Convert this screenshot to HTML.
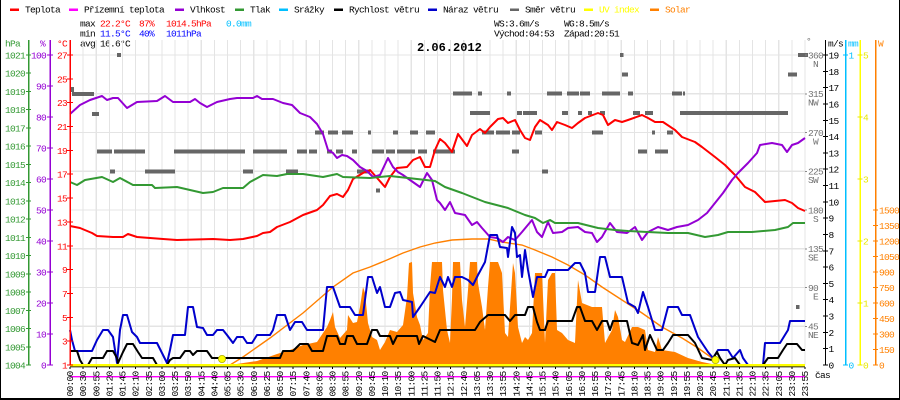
<!DOCTYPE html>
<html><head><meta charset="utf-8">
<style>
html,body{margin:0;padding:0;background:#fff;}
svg{display:block;}
text{font-family:"Liberation Mono",monospace;font-size:9.5px;letter-spacing:-0.7px;}
.g{fill:#339933}.p{fill:#9400d3}.r{fill:#ff0000}.k{fill:#000}.d{fill:#707070}.c{fill:#00bfff}.y{fill:#e8e800}.o{fill:#ff8000}.b{fill:#0000ff}
</style></head>
<body>
<svg width="900" height="400" viewBox="0 0 900 400" xmlns="http://www.w3.org/2000/svg">
<rect x="0" y="0" width="900" height="400" fill="#fff"/>
<!-- border -->
<rect x="0" y="0" width="1" height="400" fill="#000"/>
<rect x="899" y="0" width="1" height="400" fill="#000"/>
<rect x="0" y="398" width="900" height="2" fill="#000"/>

<!-- legend -->
<g>
<rect x="10" y="8.5" width="9" height="2.5" fill="#ff0000"/><text x="25" y="12.5" class="k">Teplota</text>
<rect x="69" y="8.5" width="9" height="2.5" fill="#ff00ff"/><text x="84" y="12.5" class="k">Přízemní teplota</text>
<rect x="175" y="8.5" width="9" height="2.5" fill="#9400d3"/><text x="190" y="12.5" class="k">Vlhkost</text>
<rect x="235" y="8.5" width="9" height="2.5" fill="#339933"/><text x="250" y="12.5" class="k">Tlak</text>
<rect x="279" y="8.5" width="9" height="2.5" fill="#00bfff"/><text x="294" y="12.5" class="k">Srážky</text>
<rect x="334" y="8.5" width="9" height="2.5" fill="#000"/><text x="349" y="12.5" class="k">Rychlost větru</text>
<rect x="428" y="8.5" width="9" height="2.5" fill="#0000cc"/><text x="443" y="12.5" class="k">Náraz větru</text>
<rect x="510" y="8.5" width="9" height="2.5" fill="#666"/><text x="525" y="12.5" class="k">Směr větru</text>
<rect x="584" y="8.5" width="9" height="2.5" fill="#ffff00"/><text x="599" y="12.5" fill="#ffff00">UV index</text>
<rect x="650" y="8.5" width="9" height="2.5" fill="#ff8000"/><text x="665" y="12.5" class="o">Solar</text>
</g>

<!-- stats -->
<text x="80" y="26.5" class="k">max</text><text x="100" y="26.5" class="r">22.2°C</text><text x="139" y="26.5" class="r">87%</text><text x="166" y="26.5" class="r">1014.5hPa</text><text x="226" y="26.5" class="c">0.0mm</text>
<text x="80" y="36.5" class="k">min</text><text x="100" y="36.5" class="b">11.5°C</text><text x="139" y="36.5" class="b">40%</text><text x="166" y="36.5" class="b">1011hPa</text>
<text x="80" y="46.5" class="k">avg 16.6°C</text>
<text x="494" y="26.5" class="k">WS:3.6m/s</text><text x="564" y="26.5" class="k">WG:8.5m/s</text>
<text x="494" y="36.5" class="k">Východ:04:53</text><text x="564" y="36.5" class="k">Západ:20:51</text>

<!-- grid -->
<g stroke="#e4e4e4" stroke-width="1.2" shape-rendering="crispEdges">
<line x1="83.1" y1="40" x2="83.1" y2="365"/><line x1="96.3" y1="40" x2="96.3" y2="365"/><line x1="109.4" y1="40" x2="109.4" y2="365"/><line x1="122.5" y1="40" x2="122.5" y2="365"/><line x1="135.6" y1="40" x2="135.6" y2="365"/><line x1="148.8" y1="40" x2="148.8" y2="365"/><line x1="161.9" y1="40" x2="161.9" y2="365"/><line x1="175" y1="40" x2="175" y2="365"/><line x1="188.1" y1="40" x2="188.1" y2="365"/><line x1="201.3" y1="40" x2="201.3" y2="365"/><line x1="214.4" y1="40" x2="214.4" y2="365"/><line x1="227.5" y1="40" x2="227.5" y2="365"/><line x1="240.6" y1="40" x2="240.6" y2="365"/><line x1="253.8" y1="40" x2="253.8" y2="365"/><line x1="266.9" y1="40" x2="266.9" y2="365"/><line x1="280" y1="40" x2="280" y2="365"/><line x1="293.1" y1="40" x2="293.1" y2="365"/><line x1="306.3" y1="40" x2="306.3" y2="365"/><line x1="319.4" y1="40" x2="319.4" y2="365"/><line x1="332.5" y1="40" x2="332.5" y2="365"/><line x1="345.6" y1="40" x2="345.6" y2="365"/><line x1="358.8" y1="40" x2="358.8" y2="365"/><line x1="371.9" y1="40" x2="371.9" y2="365"/><line x1="385" y1="40" x2="385" y2="365"/><line x1="398.1" y1="40" x2="398.1" y2="365"/><line x1="411.3" y1="40" x2="411.3" y2="365"/><line x1="424.4" y1="40" x2="424.4" y2="365"/><line x1="437.5" y1="40" x2="437.5" y2="365"/><line x1="450.6" y1="40" x2="450.6" y2="365"/><line x1="463.8" y1="40" x2="463.8" y2="365"/><line x1="476.9" y1="40" x2="476.9" y2="365"/><line x1="490" y1="40" x2="490" y2="365"/><line x1="503.1" y1="40" x2="503.1" y2="365"/><line x1="516.3" y1="40" x2="516.3" y2="365"/><line x1="529.4" y1="40" x2="529.4" y2="365"/><line x1="542.5" y1="40" x2="542.5" y2="365"/><line x1="555.6" y1="40" x2="555.6" y2="365"/><line x1="568.8" y1="40" x2="568.8" y2="365"/><line x1="581.9" y1="40" x2="581.9" y2="365"/><line x1="595" y1="40" x2="595" y2="365"/><line x1="608.1" y1="40" x2="608.1" y2="365"/><line x1="621.3" y1="40" x2="621.3" y2="365"/><line x1="634.4" y1="40" x2="634.4" y2="365"/><line x1="647.5" y1="40" x2="647.5" y2="365"/><line x1="660.6" y1="40" x2="660.6" y2="365"/><line x1="673.8" y1="40" x2="673.8" y2="365"/><line x1="686.9" y1="40" x2="686.9" y2="365"/><line x1="700" y1="40" x2="700" y2="365"/><line x1="713.1" y1="40" x2="713.1" y2="365"/><line x1="726.3" y1="40" x2="726.3" y2="365"/><line x1="739.4" y1="40" x2="739.4" y2="365"/><line x1="752.5" y1="40" x2="752.5" y2="365"/><line x1="765.6" y1="40" x2="765.6" y2="365"/><line x1="778.8" y1="40" x2="778.8" y2="365"/><line x1="791.9" y1="40" x2="791.9" y2="365"/><line x1="805" y1="40" x2="805" y2="365"/>
<line x1="70" y1="55" x2="805" y2="55"/><line x1="70" y1="93.75" x2="805" y2="93.75"/><line x1="70" y1="132.5" x2="805" y2="132.5"/><line x1="70" y1="171.25" x2="805" y2="171.25"/><line x1="70" y1="210" x2="805" y2="210"/><line x1="70" y1="248.75" x2="805" y2="248.75"/><line x1="70" y1="287.5" x2="805" y2="287.5"/><line x1="70" y1="326.25" x2="805" y2="326.25"/>
</g>

<!-- title -->
<text x="417" y="51" style="font-size:12px;font-weight:bold;letter-spacing:0px">2.06.2012</text>

<!-- solar fill -->
<polygon fill="#ff8000" points="230,365 257,361 277,354 290,350 303,345 317,342 323,333 327,327 330,320 333,312 335,327 340,338 347,330 348,315 353,323 357,322 360,307 363,287 365,293 368,323 372,337 377,340 380,350 385,342 390,330 397,332 403,325 407,297 409,263 412,262 413,293 417,317 420,325 423,340 428,333 430,287 432,262 442,262 443,290 447,330 450,343 452,298 453,262 460,262 462,300 465,327 468,290 470,262 477,262 478,283 482,307 485,330 488,287 490,262 498,262 502,273 505,333 508,337 513,263 515,273 518,327 522,343 525,337 528,340 532,333 535,273 542,273 545,343 548,280 552,273 555,273 557,330 562,333 568,340 575,343 578,280 582,303 592,307 602,307 605,343 612,330 615,310 618,317 622,340 625,342 632,327 638,327 645,330 648,350 655,352 658,337 662,350 675,352 688,358 702,362 712,364 718,365"/>
<!-- solar theoretical -->
<polyline fill="none" stroke="#ff8000" stroke-width="1.4" points="230,365 243,357 270,338 303,313 333,287 353,273 370,267 387,260 403,253 420,247 435,243 452,240 472,239 488,239 502,242 522,245 535,250 552,257 568,265 585,275 602,287 622,300 642,313 662,327 682,338 698,348 712,358 718,362"/>

<!-- wind direction -->
<g fill="#666" shape-rendering="crispEdges">
<rect x="117" y="53" width="4" height="4"/>
<rect x="70" y="87" width="4" height="5"/>
<rect x="72" y="92" width="22" height="4"/>
<rect x="92" y="112" width="7" height="4"/>
<rect x="97" y="149.5" width="15" height="4"/><rect x="114" y="149.5" width="31" height="4"/>
<rect x="110" y="169.5" width="5" height="4"/>
<rect x="145" y="169.5" width="30" height="4"/>
<rect x="174" y="149.5" width="71" height="4"/>
<rect x="243" y="169.5" width="10" height="4"/>
<rect x="253" y="149.5" width="34" height="4"/>
<rect x="286" y="169.5" width="12" height="4"/>
<rect x="297" y="149.5" width="10" height="4"/><rect x="309" y="149.5" width="8" height="4"/>
<rect x="315" y="130.5" width="9" height="4"/><rect x="328" y="130.5" width="10" height="4"/>
<rect x="327" y="149.5" width="5" height="4"/><rect x="336" y="149.5" width="7" height="4"/>
<rect x="342" y="130.5" width="11" height="4"/>
<rect x="352" y="149.5" width="5" height="4"/>
<rect x="357" y="169.5" width="13" height="4"/>
<rect x="368" y="130.5" width="3" height="4"/>
<rect x="372" y="149.5" width="12" height="4"/><rect x="386" y="149.5" width="9" height="4"/>
<rect x="376" y="188.5" width="4" height="4"/>
<rect x="393" y="130.5" width="5" height="4"/>
<rect x="397" y="149.5" width="18" height="4"/>
<rect x="410" y="130.5" width="8" height="4"/>
<rect x="418" y="149.5" width="9" height="4"/>
<rect x="426" y="130.5" width="9" height="4"/>
<rect x="433" y="149.5" width="22" height="4"/>
<rect x="453" y="91.5" width="19" height="4"/>
<rect x="470" y="111" width="20" height="4"/>
<rect x="478" y="91.5" width="4" height="4"/>
<rect x="482" y="130.5" width="12" height="4"/><rect x="496" y="130.5" width="14" height="4"/><rect x="512" y="130.5" width="8" height="4"/>
<rect x="507" y="91.5" width="4" height="4"/>
<rect x="512" y="149.5" width="7" height="4"/>
<rect x="517" y="111" width="5" height="4"/>
<rect x="523" y="111" width="14" height="4"/>
<rect x="535" y="130.5" width="7" height="4"/>
<rect x="542" y="169.5" width="6" height="4"/>
<rect x="547" y="91.5" width="15" height="4"/>
<rect x="562" y="111" width="6" height="4"/>
<rect x="567" y="91.5" width="12" height="4"/><rect x="580" y="91.5" width="10" height="4"/>
<rect x="578" y="111" width="4" height="4"/>
<rect x="588" y="111" width="4" height="4"/>
<rect x="592" y="130.5" width="11" height="4"/>
<rect x="600" y="111" width="5" height="4"/>
<rect x="602" y="91.5" width="18" height="4"/>
<rect x="620" y="53" width="3.5" height="4"/>
<rect x="622" y="72.5" width="6" height="4"/>
<rect x="628" y="91.5" width="5" height="4"/>
<rect x="633" y="111" width="7" height="4"/>
<rect x="638" y="149.5" width="9" height="4"/>
<rect x="645" y="111" width="8" height="4"/>
<rect x="652" y="130.5" width="3" height="4"/>
<rect x="655" y="149.5" width="13" height="4"/>
<rect x="667" y="130.5" width="6" height="4"/>
<rect x="672" y="91.5" width="10" height="4"/><rect x="683" y="91.5" width="2" height="4"/>
<rect x="680" y="111" width="108" height="4"/>
<rect x="788" y="72.5" width="9" height="4"/>
<rect x="798" y="53" width="10" height="4"/>
<rect x="796" y="305" width="3.5" height="4"/>
</g>

<!-- temperature -->
<polyline fill="none" stroke="#ff0000" stroke-width="2" stroke-linejoin="round" points="70,226 80,228 92,233 97,236 113,237 123,237 128,234 137,237 163,239 177,240 213,239 230,240 243,239 257,236 263,233 270,232 277,227 290,222 303,215 317,210 323,205 330,196 337,194 343,197 348,190 353,179 363,173 370,170 378,179 385,187 390,177 397,168 407,167 413,160 420,157 425,167 430,167 435,150 440,139 445,143 452,152 458,134 467,146 472,135 480,129 485,133 490,127 498,119 503,118 508,123 515,120 520,130 525,138 530,140 535,127 540,120 548,125 552,130 557,122 565,125 572,128 578,123 585,118 598,113 603,115 608,125 615,120 622,122 628,120 642,115 648,118 655,122 663,122 675,130 682,137 695,142 702,147 715,157 725,165 735,175 745,187 755,192 765,202 775,201 785,200 792,203 798,208 805,211"/>
<!-- humidity -->
<polyline fill="none" stroke="#9400d3" stroke-width="2" stroke-linejoin="round" points="70,114 80,105 90,100 102,96 107,100 113,98 118,98 127,108 132,105 137,102 157,101 165,96 173,102 190,102 195,99 200,103 207,107 217,102 230,99 237,98 253,98 257,96 262,99 273,99 283,103 292,105 300,113 310,117 317,124 323,134 328,150 333,153 337,158 342,155 347,156 353,160 360,167 367,171 373,177 380,175 388,158 393,167 398,172 403,175 410,180 420,187 427,173 432,180 437,200 440,203 445,210 450,202 455,213 465,215 472,225 477,222 482,228 490,237 497,238 503,242 508,237 515,240 522,232 532,220 537,232 542,237 548,222 553,233 562,232 568,228 578,227 585,232 592,233 597,242 602,237 610,223 617,232 627,233 635,227 642,240 648,232 658,227 668,230 677,227 688,225 698,220 707,213 715,203 723,193 732,180 738,173 748,163 757,153 760,145 772,143 782,145 787,152 792,145 798,143 805,138"/>
<!-- pressure -->
<polyline fill="none" stroke="#339933" stroke-width="2" stroke-linejoin="round" points="70,182 77,185 85,180 102,177 113,182 120,178 133,185 152,185 155,188 177,187 190,190 203,193 213,192 223,188 243,188 250,182 263,175 277,176 287,174 303,174 323,177 337,174 343,177 370,178 390,176 417,179 435,181 445,187 462,193 485,202 508,208 525,215 535,218 543,223 550,220 555,223 578,223 598,228 615,230 628,231 668,233 688,233 705,237 718,235 728,232 752,232 775,230 788,227 793,223 805,223"/>
<!-- gust -->
<polyline fill="none" stroke="#0000cc" stroke-width="2" stroke-linejoin="round" points="70,330 72,340 75,351 92,351 97,340 103,330 108,330 113,337 117,363 120,330 123,315 127,315 132,332 137,337 140,343 157,343 162,353 167,363 170,350 173,335 185,335 188,307 193,307 197,327 203,328 207,335 213,335 217,330 223,330 227,335 233,343 237,337 243,337 247,343 252,343 257,335 270,335 273,330 277,315 285,315 290,330 295,322 302,322 307,330 323,330 327,287 333,287 340,307 350,307 355,315 363,315 368,277 372,277 377,293 380,287 385,307 390,307 395,293 400,292 403,300 412,302 413,317 420,307 430,292 435,293 440,277 445,287 448,277 452,287 455,277 462,277 468,280 473,285 478,275 485,262 490,235 497,235 500,247 507,248 508,257 512,227 515,233 517,257 520,255 522,277 525,250 528,270 533,297 537,277 545,277 548,270 568,270 575,263 580,263 585,273 588,292 595,292 600,257 605,257 610,277 622,277 628,303 635,307 638,313 643,292 648,307 655,330 662,330 668,307 678,307 682,315 690,315 698,337 708,352 713,358 718,350 728,350 733,358 740,350 743,358 748,365 763,365 765,343 780,343 788,330 790,321 805,321"/>
<!-- wind speed -->
<polyline fill="none" stroke="#000" stroke-width="2" stroke-linejoin="round" points="70,351 77,351 80,360 83,365 88,365 92,358 103,358 107,351 113,351 117,358 118,363 123,352 127,344 133,344 138,352 142,358 153,358 157,365 167,365 170,360 173,358 180,358 185,351 190,351 193,355 197,351 207,351 212,358 280,358 283,351 293,351 300,344 308,344 312,351 323,351 327,336 337,336 340,344 345,344 347,336 353,336 357,344 367,344 372,330 377,330 380,336 390,336 393,344 397,336 417,336 419,344 423,336 435,342 440,330 475,330 480,322 488,315 505,315 510,321 515,315 525,315 528,307 533,307 537,322 540,330 545,330 548,321 572,321 577,307 580,307 585,321 592,321 597,330 602,321 607,321 610,330 613,321 627,321 632,343 638,345 643,335 645,350 650,335 657,350 663,350 668,343 673,335 688,335 695,343 702,358 712,360 717,352 720,358 725,365 728,360 735,358 740,365 763,365 768,358 778,358 783,350 787,344 797,344 802,350 805,350"/>

<!-- bottom lines -->
<rect x="70" y="366.3" width="735" height="1" fill="#000"/>
<rect x="70" y="364" width="735" height="2.4" fill="#ffff00"/>
<rect x="70" y="376" width="735" height="1.4" fill="#ff00ff"/>
<circle cx="222" cy="359" r="3.6" fill="#ffff00" stroke="#b0b000" stroke-width="0.8"/>
<circle cx="715.5" cy="360" r="3.6" fill="#ffff00" stroke="#b0b000" stroke-width="0.8"/>

<!-- left axes -->
<g shape-rendering="crispEdges">
<rect x="28" y="40" width="1.3" height="325" fill="#339933"/>
<rect x="49.5" y="40" width="1.3" height="325" fill="#9400d3"/>
<rect x="69.5" y="40" width="1.3" height="325" fill="#ff0000"/>
<rect x="824.8" y="40" width="1.3" height="325" fill="#000"/>
<rect x="845" y="40" width="1.3" height="325" fill="#00bfff"/>
<rect x="859.5" y="40" width="1.3" height="325" fill="#ffff00"/>
<rect x="875" y="40" width="1.3" height="325" fill="#ff8000"/>
</g>
<g stroke-width="1" shape-rendering="crispEdges">
<path stroke="#339933" d="M26 55h5M26 73.2h5M26 91.5h5M26 109.7h5M26 127.9h5M26 146.2h5M26 164.4h5M26 182.7h5M26 200.9h5M26 219.1h5M26 237.4h5M26 255.6h5M26 273.9h5M26 292.1h5M26 310.3h5M26 328.5h5M26 346.8h5M26 365h5"/>
<path stroke="#9400d3" d="M47 55h6M47 86h6M47 117h6M47 148h6M47 179h6M47 210h6M47 241h6M47 272h6M47 303h6M47 334h6M47 365h6"/>
<path stroke="#ff0000" d="M67 55h6M67 78.8h6M67 102.7h6M67 126.5h6M67 150.4h6M67 174.2h6M67 198.1h6M67 221.9h6M67 245.8h6M67 269.6h6M67 293.5h6M67 317.3h6M67 341.2h6M67 365h6"/>
<path stroke="#000" d="M823 55h5M823 71.3h5M823 87.6h5M823 103.9h5M823 120.3h5M823 136.6h5M823 152.9h5M823 169.2h5M823 185.5h5M823 201.8h5M823 218.2h5M823 234.5h5M823 250.8h5M823 267.1h5M823 283.4h5M823 299.7h5M823 316.1h5M823 332.4h5M823 348.7h5M823 365h5"/>
<path stroke="#00bfff" d="M843 55h5M843 365h5"/>
<path stroke="#e8e800" d="M857.5 55h5M857.5 117h5M857.5 179h5M857.5 241h5M857.5 303h5M857.5 365h5"/>
<path stroke="#ff8000" d="M873 210h5M873 225.5h5M873 241h5M873 256.5h5M873 272h5M873 287.5h5M873 303h5M873 318.5h5M873 334h5M873 349.5h5M873 365h5"/>
<path stroke="#888" d="M805 55h2M805 93.75h2M805 132.5h2M805 171.25h2M805 210h2M805 248.75h2M805 287.5h2M805 326.25h2"/>
<path stroke="#000" d="M70 367v2M83.1 367v2M96.3 367v2M109.4 367v2M122.5 367v2M135.6 367v2M148.8 367v2M161.9 367v2M175 367v2M188.1 367v2M201.3 367v2M214.4 367v2M227.5 367v2M240.6 367v2M253.8 367v2M266.9 367v2M280 367v2M293.1 367v2M306.3 367v2M319.4 367v2M332.5 367v2M345.6 367v2M358.8 367v2M371.9 367v2M385 367v2M398.1 367v2M411.3 367v2M424.4 367v2M437.5 367v2M450.6 367v2M463.8 367v2M476.9 367v2M490 367v2M503.1 367v2M516.3 367v2M529.4 367v2M542.5 367v2M555.6 367v2M568.8 367v2M581.9 367v2M595 367v2M608.1 367v2M621.3 367v2M634.4 367v2M647.5 367v2M660.6 367v2M673.8 367v2M686.9 367v2M700 367v2M713.1 367v2M726.3 367v2M739.4 367v2M752.5 367v2M765.6 367v2M778.8 367v2M791.9 367v2M805 367v2"/>
</g>

<!-- axis unit labels -->
<text x="5" y="46.5" class="g">hPa</text>
<text x="40" y="46.5" class="p">%</text>
<text x="57" y="46.5" class="r">°C</text>
<text x="806" y="44" class="d">°</text>
<text x="828" y="46.5" class="k">m/s</text>
<text x="848" y="46.5" class="c">mm</text>
<text x="878" y="46.5" class="o">W</text>
<text x="815" y="378" class="k">čas</text>

<!-- hPa labels -->
<g class="g" text-anchor="end">
<text x="25" y="58.5" class="g">1021</text><text x="25" y="76.7" class="g">1020</text><text x="25" y="95" class="g">1019</text><text x="25" y="113.2" class="g">1018</text><text x="25" y="131.4" class="g">1017</text><text x="25" y="149.7" class="g">1016</text><text x="25" y="167.9" class="g">1015</text><text x="25" y="186.2" class="g">1014</text><text x="25" y="204.4" class="g">1013</text><text x="25" y="222.6" class="g">1012</text><text x="25" y="240.9" class="g">1011</text><text x="25" y="259.1" class="g">1010</text><text x="25" y="277.4" class="g">1009</text><text x="25" y="295.6" class="g">1008</text><text x="25" y="313.8" class="g">1007</text><text x="25" y="332" class="g">1006</text><text x="25" y="350.3" class="g">1005</text><text x="25" y="368.5" class="g">1004</text>
</g>
<g text-anchor="end">
<text x="46" y="58.5" class="p">100</text><text x="46" y="89.5" class="p">90</text><text x="46" y="120.5" class="p">80</text><text x="46" y="151.5" class="p">70</text><text x="46" y="182.5" class="p">60</text><text x="46" y="213.5" class="p">50</text><text x="46" y="244.5" class="p">40</text><text x="46" y="275.5" class="p">30</text><text x="46" y="306.5" class="p">20</text><text x="46" y="337.5" class="p">10</text><text x="46" y="368.5" class="p">0</text>
</g>
<g text-anchor="end">
<text x="67" y="58.5" class="r">27</text><text x="67" y="82.3" class="r">25</text><text x="67" y="106.2" class="r">23</text><text x="67" y="130" class="r">21</text><text x="67" y="153.9" class="r">19</text><text x="67" y="177.7" class="r">17</text><text x="67" y="201.6" class="r">15</text><text x="67" y="225.4" class="r">13</text><text x="67" y="249.3" class="r">11</text><text x="67" y="273.1" class="r">9</text><text x="67" y="297" class="r">7</text><text x="67" y="320.8" class="r">5</text><text x="67" y="344.7" class="r">3</text><text x="67" y="368.5" class="r">1</text>
</g>

<!-- direction labels -->
<g>
<text x="808" y="58.5" class="d">360</text><text x="818" y="67" class="d" text-anchor="end">N</text>
<text x="808" y="97.2" class="d">315</text><text x="818" y="105.7" class="d" text-anchor="end">NW</text>
<text x="808" y="136" class="d">270</text><text x="818" y="144.5" class="d" text-anchor="end">W</text>
<text x="808" y="174.7" class="d">225</text><text x="818" y="183.2" class="d" text-anchor="end">SW</text>
<text x="808" y="213.5" class="d">180</text><text x="818" y="222" class="d" text-anchor="end">S</text>
<text x="808" y="252.2" class="d">135</text><text x="818" y="260.7" class="d" text-anchor="end">SE</text>
<text x="808" y="291" class="d">90</text><text x="818" y="299.5" class="d" text-anchor="end">E</text>
<text x="808" y="329.7" class="d">45</text><text x="818" y="338.2" class="d" text-anchor="end">NE</text>
</g>

<!-- m/s labels -->
<g>
<text x="828.5" y="58.5" class="k">19</text><text x="828.5" y="74.8" class="k">18</text><text x="828.5" y="91.1" class="k">17</text><text x="828.5" y="107.4" class="k">16</text><text x="828.5" y="123.8" class="k">15</text><text x="828.5" y="140.1" class="k">14</text><text x="828.5" y="156.4" class="k">13</text><text x="828.5" y="172.7" class="k">12</text><text x="828.5" y="189" class="k">11</text><text x="828.5" y="205.3" class="k">10</text><text x="828.5" y="221.7" class="k">9</text><text x="828.5" y="238" class="k">8</text><text x="828.5" y="254.3" class="k">7</text><text x="828.5" y="270.6" class="k">6</text><text x="828.5" y="286.9" class="k">5</text><text x="828.5" y="303.2" class="k">4</text><text x="828.5" y="319.6" class="k">3</text><text x="828.5" y="335.9" class="k">2</text><text x="828.5" y="352.2" class="k">1</text><text x="828.5" y="368.5" class="k">0</text>
</g>
<text x="848.5" y="58.5" class="c">1</text><text x="848.5" y="368.5" class="c">0</text>
<g>
<text x="863" y="58.5" class="y">5</text><text x="863" y="120.5" class="y">4</text><text x="863" y="182.5" class="y">3</text><text x="863" y="244.5" class="y">2</text><text x="863" y="306.5" class="y">1</text><text x="863" y="368.5" class="y">0</text>
</g>
<g>
<text x="879" y="213.5" class="o">1500</text><text x="879" y="229" class="o">1350</text><text x="879" y="244.5" class="o">1200</text><text x="879" y="260" class="o">1050</text><text x="879" y="275.5" class="o">900</text><text x="879" y="291" class="o">750</text><text x="879" y="306.5" class="o">600</text><text x="879" y="322" class="o">450</text><text x="879" y="337.5" class="o">300</text><text x="879" y="353" class="o">150</text><text x="879" y="368.5" class="o">0</text>
</g>

<!-- x labels -->
<g class="k" text-anchor="end">
<text transform="translate(73,371.5) rotate(-90)">00:00</text>
<text transform="translate(86.1,371.5) rotate(-90)">00:30</text>
<text transform="translate(99.3,371.5) rotate(-90)">00:55</text>
<text transform="translate(112.4,371.5) rotate(-90)">01:20</text>
<text transform="translate(125.5,371.5) rotate(-90)">01:45</text>
<text transform="translate(138.6,371.5) rotate(-90)">02:10</text>
<text transform="translate(151.8,371.5) rotate(-90)">02:35</text>
<text transform="translate(164.9,371.5) rotate(-90)">03:00</text>
<text transform="translate(178,371.5) rotate(-90)">03:25</text>
<text transform="translate(191.1,371.5) rotate(-90)">03:50</text>
<text transform="translate(204.3,371.5) rotate(-90)">04:15</text>
<text transform="translate(217.4,371.5) rotate(-90)">04:40</text>
<text transform="translate(230.5,371.5) rotate(-90)">05:05</text>
<text transform="translate(243.6,371.5) rotate(-90)">05:30</text>
<text transform="translate(256.8,371.5) rotate(-90)">06:00</text>
<text transform="translate(269.9,371.5) rotate(-90)">06:25</text>
<text transform="translate(283,371.5) rotate(-90)">06:50</text>
<text transform="translate(296.1,371.5) rotate(-90)">07:15</text>
<text transform="translate(309.3,371.5) rotate(-90)">07:40</text>
<text transform="translate(322.4,371.5) rotate(-90)">08:05</text>
<text transform="translate(335.5,371.5) rotate(-90)">08:30</text>
<text transform="translate(348.6,371.5) rotate(-90)">08:55</text>
<text transform="translate(361.8,371.5) rotate(-90)">09:20</text>
<text transform="translate(374.9,371.5) rotate(-90)">09:45</text>
<text transform="translate(388,371.5) rotate(-90)">10:10</text>
<text transform="translate(401.1,371.5) rotate(-90)">10:35</text>
<text transform="translate(414.3,371.5) rotate(-90)">11:00</text>
<text transform="translate(427.4,371.5) rotate(-90)">11:25</text>
<text transform="translate(440.5,371.5) rotate(-90)">11:50</text>
<text transform="translate(453.6,371.5) rotate(-90)">12:15</text>
<text transform="translate(466.8,371.5) rotate(-90)">12:40</text>
<text transform="translate(479.9,371.5) rotate(-90)">13:05</text>
<text transform="translate(493,371.5) rotate(-90)">13:30</text>
<text transform="translate(506.1,371.5) rotate(-90)">13:55</text>
<text transform="translate(519.3,371.5) rotate(-90)">14:20</text>
<text transform="translate(532.4,371.5) rotate(-90)">14:45</text>
<text transform="translate(545.5,371.5) rotate(-90)">15:15</text>
<text transform="translate(558.6,371.5) rotate(-90)">15:40</text>
<text transform="translate(571.8,371.5) rotate(-90)">16:05</text>
<text transform="translate(584.9,371.5) rotate(-90)">16:30</text>
<text transform="translate(598,371.5) rotate(-90)">16:55</text>
<text transform="translate(611.1,371.5) rotate(-90)">17:20</text>
<text transform="translate(624.3,371.5) rotate(-90)">17:45</text>
<text transform="translate(637.4,371.5) rotate(-90)">18:10</text>
<text transform="translate(650.5,371.5) rotate(-90)">18:35</text>
<text transform="translate(663.6,371.5) rotate(-90)">19:00</text>
<text transform="translate(676.8,371.5) rotate(-90)">19:25</text>
<text transform="translate(689.9,371.5) rotate(-90)">19:55</text>
<text transform="translate(703,371.5) rotate(-90)">20:20</text>
<text transform="translate(716.1,371.5) rotate(-90)">20:45</text>
<text transform="translate(729.3,371.5) rotate(-90)">21:10</text>
<text transform="translate(742.4,371.5) rotate(-90)">21:35</text>
<text transform="translate(755.5,371.5) rotate(-90)">22:10</text>
<text transform="translate(768.6,371.5) rotate(-90)">22:35</text>
<text transform="translate(781.8,371.5) rotate(-90)">23:05</text>
<text transform="translate(794.9,371.5) rotate(-90)">23:30</text>
<text transform="translate(808,371.5) rotate(-90)">23:55</text>
</g>
</svg>
</body></html>
